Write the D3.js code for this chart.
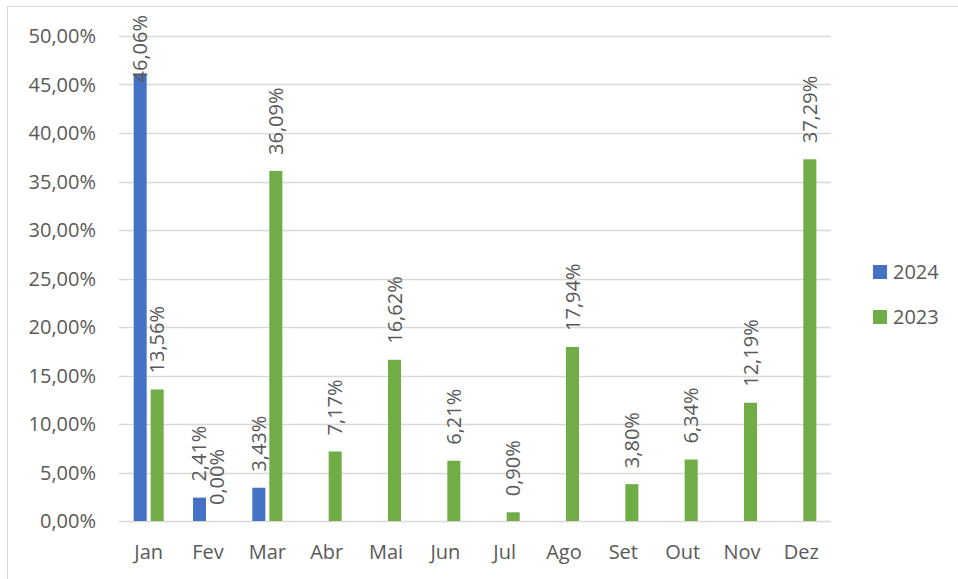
<!DOCTYPE html>
<html>
<head>
<meta charset="utf-8">
<script src="https://cdn.jsdelivr.net/npm/d3@7"></script>
<style>
  body { margin: 0; background: #fff; }
  text { font-family: "Open Sans", "Liberation Sans", sans-serif; fill: #595959; }
</style>
</head>
<body>
<svg></svg>
<script>
let width = 958, height = 579;

let months = ["Jan", "Fev", "Mar", "Abr", "Mai", "Jun", "Jul", "Ago", "Set", "Out", "Nov", "Dez"];
let seriesNames = ["2024", "2023"];
let values2024 = [46.06, 2.41, 3.43, null, null, null, null, null, null, null, null, null];
let values2023 = [13.56, 0.00, 36.09, 7.17, 16.62, 6.21, 0.90, 17.94, 3.80, 6.34, 12.19, 37.29];
let yTicks = [0, 5, 10, 15, 20, 25, 30, 35, 40, 45, 50];
let colors = ["#4472C4", "#70AD47"];

let margin = {top: 36, right: 127, bottom: 58, left: 119};
let fontSize = "20px";

let svg = d3.select("svg")
  .attr("width", width)
  .attr("height", height);

// chart frame
svg.append("rect")
  .attr("x", 7.5).attr("y", 6.5)
  .attr("width", 1000).attr("height", 1000)
  .attr("fill", "none")
  .attr("stroke", "#d9d9d9");

let x = d3.scaleBand()
  .domain(months)
  .range([margin.left, width - margin.right])
  .paddingInner(0.494)
  .paddingOuter(0.247);

let xSub = d3.scaleBand()
  .domain(seriesNames)
  .range([0, x.bandwidth()])
  .paddingInner(0.235);

let y = d3.scaleLinear()
  .domain([0, 50])
  .range([height - margin.bottom, margin.top]);

let fmt = v => d3.format(".2f")(v).replace(".", ",") + "%";

// gridlines
svg.append("g")
  .selectAll("line")
  .data(yTicks)
  .enter()
  .append("line")
  .attr("x1", margin.left)
  .attr("x2", width - margin.right)
  .attr("y1", d => Math.round(y(d)) + 0.5)
  .attr("y2", d => Math.round(y(d)) + 0.5)
  .attr("stroke", "#d9d9d9")
  .attr("stroke-width", 1.3);

// y labels
svg.append("g")
  .selectAll("text")
  .data(yTicks)
  .enter()
  .append("text")
  .attr("x", 96)
  .attr("y", d => y(d))
  .attr("dy", "0.35em")
  .attr("text-anchor", "end")
  .style("font-size", fontSize)
  .text(d => fmt(d));

// x labels
svg.append("g")
  .selectAll("text")
  .data(months)
  .enter()
  .append("text")
  .attr("x", d => x(d) + x.bandwidth() / 2)
  .attr("y", 559)
  .attr("text-anchor", "middle")
  .style("font-size", fontSize)
  .text(d => d);

let data = [];
months.forEach((m, i) => {
  data.push({month: m, series: "2024", value: values2024[i], color: colors[0]});
  data.push({month: m, series: "2023", value: values2023[i], color: colors[1]});
});
data = data.filter(d => d.value !== null);

svg.append("g")
  .selectAll("rect")
  .data(data)
  .enter()
  .append("rect")
  .attr("x", d => x(d.month) + xSub(d.series))
  .attr("y", d => y(d.value))
  .attr("width", xSub.bandwidth())
  .attr("height", d => y(0) - y(d.value))
  .attr("fill", d => d.color);

// value labels, rotated, kept inside the chart area
svg.append("g")
  .selectAll("text")
  .data(data)
  .enter()
  .append("text")
  .attr("text-anchor", "start")
  .attr("dy", "0.35em")
  .style("font-size", fontSize)
  .text(d => fmt(d.value))
  .each(function(d) {
    let len = this.getComputedTextLength();
    let cx = x(d.month) + xSub(d.series) + xSub.bandwidth() / 2;
    let start = y(d.value) - 16;
    if (start - len < 15) start = 15 + len;
    d3.select(this).attr("transform", "translate(" + cx + "," + start + ") rotate(-90)");
  });

// legend
let legend = svg.append("g")
  .selectAll("g")
  .data(seriesNames)
  .enter()
  .append("g")
  .attr("transform", (d, i) => "translate(873," + (265 + i * 45) + ")");

legend.append("rect")
  .attr("width", 14)
  .attr("height", 14)
  .attr("fill", (d, i) => colors[i]);

legend.append("text")
  .attr("x", 20)
  .attr("y", 7)
  .attr("dy", "0.35em")
  .style("font-size", fontSize)
  .text(d => d);
</script>
</body>
</html>
